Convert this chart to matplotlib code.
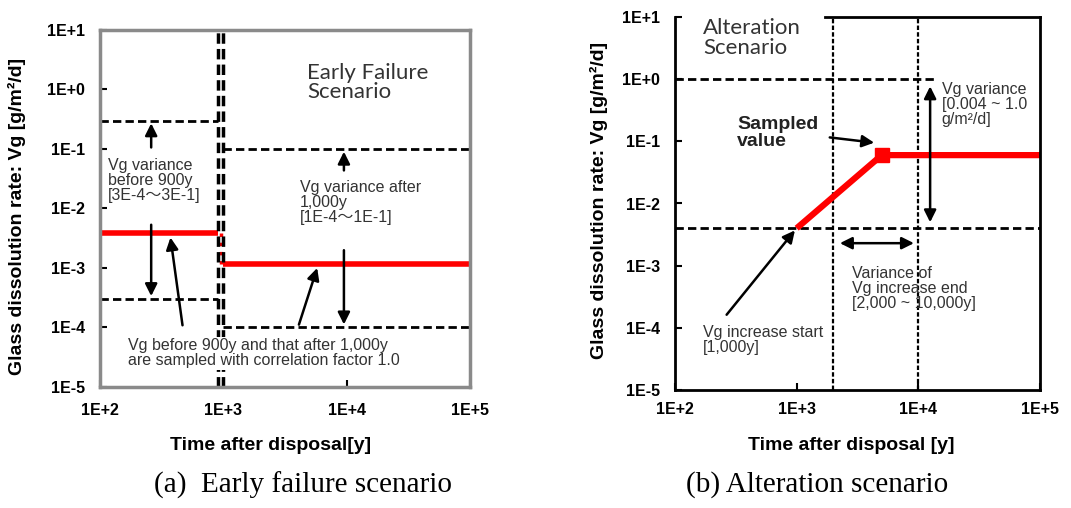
import matplotlib.pyplot as plt
import numpy as np

# axis ticks
x_ticks = [1e2, 1e3, 1e4, 1e5]
x_labels = ['1E+2', '1E+3', '1E+4', '1E+5']
y_ticks = [1e-5, 1e-4, 1e-3, 1e-2, 1e-1, 1e0, 1e1]
y_labels = ['1E-5', '1E-4', '1E-3', '1E-2', '1E-1', '1E+0', '1E+1']

# (a) early failure
ef_t_before = [1e2, 900]
ef_vg_before = [3.8e-3, 3.8e-3]
ef_t_after = [1000, 1e5]
ef_vg_after = [1.15e-3, 1.15e-3]
ef_range_before = [3e-4, 3e-1]
ef_range_after = [1e-4, 1e-1]
ef_switch = [900, 1000]

# (b) alteration
al_t = [1000, 5000, 1e5]
al_vg = [0.004, 0.06, 0.06]
al_range = [0.004, 1.0]
al_end_range = [2000, 10000]

sans = ['Liberation Sans', 'Noto Sans CJK JP']
arrow = dict(arrowstyle='-|>', color='black', lw=1.8, mutation_scale=18)
arrow2 = dict(arrowstyle='<|-|>', color='black', lw=1.8, mutation_scale=18)
note = dict(fontsize=11.5, family=sans, color='#333333', va='top', linespacing=1.0)

fig = plt.figure(figsize=(10.71, 5.08), dpi=100)
ax1 = fig.add_axes([100/1071, 1-386.7/508, 370/1071, 356.7/508])
ax2 = fig.add_axes([675/1071, 1-390/508, 365/1071, 373/508])

for ax in (ax1, ax2):
    ax.set_xscale('log')
    ax.set_yscale('log')
    ax.set_xlim(1e2, 1e5)
    ax.set_ylim(1e-5, 1e1)
    ax.set_xticks(x_ticks, x_labels)
    ax.set_yticks(y_ticks, y_labels)
    ax.minorticks_off()
    ax.tick_params(direction='in', length=5, width=1.5, labelsize=11.5)
    for lab in ax.get_xticklabels() + ax.get_yticklabels():
        lab.set_fontweight('bold')
        lab.set_family('Liberation Sans')
    ax.set_ylabel('Glass dissolution rate: Vg [g/m\u00b2/d]', fontsize=14,
                  fontweight='bold', family='Liberation Sans')

ax1.tick_params(axis='y', pad=11)
ax1.tick_params(axis='x', pad=12)
ax2.tick_params(axis='y', pad=11)
ax2.tick_params(axis='x', pad=9)

# ---------- (a) ----------
for s in ax1.spines.values():
    s.set_color('#8a8a8a')
    s.set_linewidth(2.5)
ax1.plot(ef_t_before, ef_vg_before, color='red', lw=4, solid_capstyle='butt')
ax1.plot(ef_t_after, ef_vg_after, color='red', lw=4, solid_capstyle='butt')
ax1.plot([950, 950], [ef_vg_before[0], ef_vg_after[0]], color='red', lw=2.5, ls=':')
for xv in ef_switch:
    ax1.axvline(xv, color='black', lw=2.5, ls=(0, (3, 1.5)))
for yv in ef_range_before:
    ax1.plot([1e2, ef_switch[0]], [yv, yv], color='black', lw=2, ls=(0, (3, 1.5)))
for yv in ef_range_after:
    ax1.plot([ef_switch[1], 1e5], [yv, yv], color='black', lw=2, ls=(0, (3, 1.5)))

ax1.annotate('', xy=(260, ef_range_before[1]), xytext=(260, 0.095), arrowprops=arrow)
ax1.annotate('', xy=(260, ef_range_before[0]), xytext=(260, 5.9e-3), arrowprops=arrow)
ax1.annotate('', xy=(9500, ef_range_after[1]), xytext=(9500, 0.039), arrowprops=arrow)
ax1.annotate('', xy=(9500, ef_range_after[0]), xytext=(9500, 2.2e-3), arrowprops=arrow)
ax1.annotate('', xy=(370, 3.6e-3), xytext=(470, 9.7e-5), arrowprops=arrow)
ax1.annotate('', xy=(5860, 1.1e-3), xytext=(4036, 1.0e-4), arrowprops=arrow)

ax1.text(116, 0.07, 'Vg variance\nbefore 900y\n[3E-4\uff5e3E-1]', **note)
ax1.text(4200, 0.03, 'Vg variance after\n1,000y\n[1E-4\uff5e1E-1]', **note)
ax1.text(169, 6.5e-5, 'Vg before 900y and that after 1,000y\nare sampled with correlation factor 1.0',
         bbox=dict(facecolor='white', edgecolor='none', pad=1), **note)
ax1.text(4780, 2.8, 'Early Failure\nScenario', fontsize=16, family='Lato',
         color='#333333', va='top', linespacing=0.95)

ax1.set_xlabel('Time after disposal[y]', fontsize=14, fontweight='bold',
               family='Liberation Sans')
ax1.xaxis.set_label_coords(0.46, -0.14)
ax1.yaxis.set_label_coords(-0.2, 0.476)

# ---------- (b) ----------
for s in ax2.spines.values():
    s.set_color('black')
    s.set_linewidth(2)
ax2.spines['top'].set_bounds(1700, 1e5)
for xv in al_end_range:
    ax2.axvline(xv, color='black', lw=1.6, ls=(0, (2, 1)))
ax2.plot([1e2, 1.4e4], [al_range[1], al_range[1]], color='black', lw=2, ls=(0, (3, 1.5)))
ax2.axhline(al_range[0], color='black', lw=2, ls=(0, (3, 1.5)))
ax2.plot(al_t, al_vg, color='red', lw=4.5, solid_capstyle='butt')
ax2.plot(al_t[1], al_vg[1], marker='s', color='red', ms=10)

ax2.annotate('', xy=(12500, 0.85), xytext=(12500, 0.0045), arrowprops=arrow2)
ax2.annotate('', xy=(2150, 2.3e-3), xytext=(9700, 2.3e-3), arrowprops=arrow2)
ax2.annotate('', xy=(4570, 0.094), xytext=(1775, 0.117), arrowprops=arrow)
ax2.annotate('', xy=(1000, 4.0e-3), xytext=(257, 1.5e-4), arrowprops=arrow)

ax2.text(170, 9.5, 'Alteration\nScenario', fontsize=16, family='Lato',
         color='#333333', va='top', linespacing=0.95)
ax2.text(323, 0.26, 'Sampled\nvalue', fontsize=14, fontweight='bold',
         family='Liberation Sans', color='#222222', va='top', linespacing=1.0)
ax2.text(15600, 0.9, 'Vg variance\n[0.004 ~ 1.0\ng/m\u00b2/d]', **note)
ax2.text(2850, 9.9e-4, 'Variance of\nVg increase end\n[2,000 ~ 10,000y]', **note)
ax2.text(170, 1.1e-4, 'Vg increase start\n[1,000y]', **note)

ax2.set_xlabel('Time after disposal [y]', fontsize=14, fontweight='bold',
               family='Liberation Sans')
ax2.xaxis.set_label_coords(0.482, -0.125)
ax2.yaxis.set_label_coords(-0.184, 0.507)

fig.text(303/1071, 1-485/508, '(a)  Early failure scenario', fontsize=21,
         family='Liberation Serif', ha='center', va='center')
fig.text(817/1071, 1-485/508, '(b) Alteration scenario', fontsize=21,
         family='Liberation Serif', ha='center', va='center')

fig.savefig('out.png', dpi=100)
